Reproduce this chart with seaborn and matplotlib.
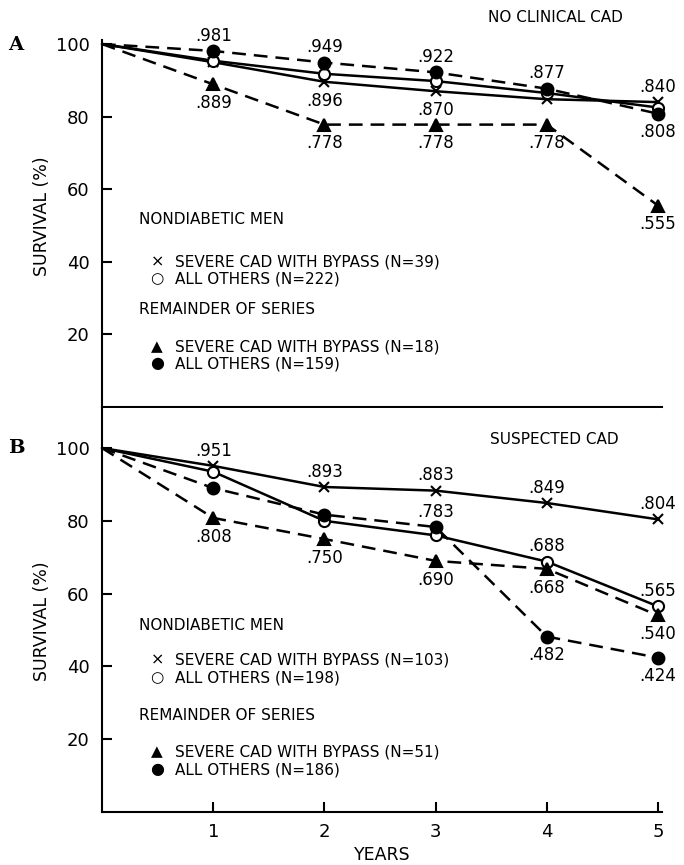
import matplotlib
matplotlib.use('Agg')
import matplotlib.pyplot as plt
import seaborn as sns

# Survival data (percent)
years = [0, 1, 2, 3, 4, 5]

# A - no clinical CAD
a_nd_bypass = [100, 95.0, 89.6, 87.0, 84.8, 84.0]
a_nd_others = [100, 95.4, 91.8, 89.8, 86.5, 82.5]
a_rem_bypass = [100, 88.9, 77.8, 77.8, 77.8, 55.5]
a_rem_others = [100, 98.1, 94.9, 92.2, 87.7, 80.8]

# B - suspected CAD
b_nd_bypass = [100, 95.1, 89.3, 88.3, 84.9, 80.4]
b_nd_others = [100, 93.5, 80.0, 76.0, 68.8, 56.5]
b_rem_bypass = [100, 80.8, 75.0, 69.0, 66.8, 54.0]
b_rem_others = [100, 89.0, 81.7, 78.3, 48.2, 42.4]

# printed values: (series, year, side)
a_labels = [('rem_others', 1, 'above'), ('rem_bypass', 1, 'below'),
            ('rem_others', 2, 'above'), ('nd_bypass', 2, 'below'), ('rem_bypass', 2, 'below'),
            ('rem_others', 3, 'above'), ('nd_bypass', 3, 'below'), ('rem_bypass', 3, 'below'),
            ('rem_others', 4, 'above'), ('rem_bypass', 4, 'below'),
            ('nd_bypass', 5, 'above'), ('rem_others', 5, 'below'), ('rem_bypass', 5, 'below')]
b_labels = [('nd_bypass', 1, 'above'), ('rem_bypass', 1, 'below'),
            ('nd_bypass', 2, 'above'), ('rem_bypass', 2, 'below'),
            ('nd_bypass', 3, 'above'), ('rem_others', 3, 'above'), ('rem_bypass', 3, 'below'),
            ('nd_bypass', 4, 'above'), ('nd_others', 4, 'above'), ('rem_bypass', 4, 'below'),
            ('rem_others', 4, 'below'),
            ('nd_bypass', 5, 'above'), ('nd_others', 5, 'above'), ('rem_bypass', 5, 'below'),
            ('rem_others', 5, 'below')]

a_legend = ['SEVERE CAD WITH BYPASS (N=39)', 'ALL OTHERS (N=222)',
            'SEVERE CAD WITH BYPASS (N=18)', 'ALL OTHERS (N=159)']
b_legend = ['SEVERE CAD WITH BYPASS (N=103)', 'ALL OTHERS (N=198)',
            'SEVERE CAD WITH BYPASS (N=51)', 'ALL OTHERS (N=186)']

sns.set_theme(style='ticks')
plt.rcParams['font.family'] = ['DejaVu Sans']
plt.rcParams['axes.linewidth'] = 1.5
for key in ['text.color', 'axes.labelcolor', 'axes.edgecolor', 'xtick.color', 'ytick.color']:
    plt.rcParams[key] = 'black'

W, H = 684, 865
fig = plt.figure(figsize=(W / 100, H / 100), dpi=100)


def fx(x):
    return x / W


def fy(y):
    return 1 - y / H


dash = (0, (5.5, 3.2))
styles = {
    'nd_bypass': dict(marker='x', linestyle='-', markerfacecolor='none', markersize=7),
    'nd_others': dict(marker='o', linestyle='-', markerfacecolor='white', markersize=8),
    'rem_bypass': dict(marker='^', linestyle=dash, markerfacecolor='black', markersize=8.5),
    'rem_others': dict(marker='o', linestyle=dash, markerfacecolor='black', markersize=8.5),
}

x_right = 5.036
axA = fig.add_axes([fx(102), fy(407), fx(662) - fx(102), (407 - 40.4) / H])
axB = fig.add_axes([fx(102), fy(812), fx(662) - fx(102), (812 - 408) / H])


def draw_panel(ax, series, labels, ytop):
    for name, vals in series.items():
        sns.lineplot(x=years, y=vals, ax=ax, color='black', linewidth=1.8,
                     markevery=[1, 2, 3, 4, 5], markeredgecolor='black',
                     markeredgewidth=1.5, clip_on=False, **styles[name])
    for name, yr, side in labels:
        v = series[name][yr]
        txt = f'{v / 100:.3f}'.lstrip('0')
        dy = 11 if side == 'above' else -13.5
        ax.annotate(txt, xy=(yr, v), xytext=(0, dy), textcoords='offset points',
                    ha='center', va='center', fontsize=12, annotation_clip=False)
    ax.set_xlim(0, x_right)
    ax.set_ylim(0, ytop)
    ax.set_yticks([20, 40, 60, 80, 100])
    ax.set_yticklabels(['20', '40', '60', '80', '100'])
    ax.tick_params(axis='y', direction='in', length=7, width=1.5, labelsize=13, pad=9)
    sns.despine(ax=ax)
    ax.set_xlabel('')


draw_panel(axA, {'nd_bypass': a_nd_bypass, 'nd_others': a_nd_others,
                 'rem_bypass': a_rem_bypass, 'rem_others': a_rem_others}, a_labels, 101)
draw_panel(axB, {'nd_bypass': b_nd_bypass, 'nd_others': b_nd_others,
                 'rem_bypass': b_rem_bypass, 'rem_others': b_rem_others}, b_labels, 111)

axA.set_xticks([])
axB.set_xticks([1, 2, 3, 4, 5])
axB.set_xticklabels(['1', '2', '3', '4', '5'])
axB.tick_params(axis='x', direction='in', length=7, width=1.5, labelsize=13, pad=8)
axB.set_xlabel('YEARS', fontsize=12.5)
axB.xaxis.set_label_coords(0.5, -0.085)

for ax, yc in [(axA, 0.521), (axB, 0.473)]:
    ax.set_ylabel('SURVIVAL (%)', fontsize=12.5)
    ax.yaxis.set_label_coords(-0.091, yc)

# panel letters and titles
fig.text(fx(16), fy(45), 'A', family='DejaVu Serif', weight='bold', fontsize=14,
         ha='center', va='center')
fig.text(fx(16), fy(448), 'B', family='DejaVu Serif', weight='bold', fontsize=14,
         ha='center', va='center')
fig.text(fx(555), fy(18), 'NO CLINICAL CAD', fontsize=11, ha='center', va='center')
fig.text(fx(554), fy(440), 'SUSPECTED CAD', fontsize=11, ha='center', va='center')

# legend blocks
glyphs = ['\u00d7', '\u25cb', '\u25b2', '\u25cf']
glyph_sizes = [11.5, 11, 11, 11.5]


def legend_block(entries, rows):
    head1, e1, e2, head2, e3, e4 = rows
    fig.text(fx(139), fy(head1), 'NONDIABETIC MEN', fontsize=11, ha='left', va='center')
    fig.text(fx(139), fy(head2), 'REMAINDER OF SERIES', fontsize=11, ha='left', va='center')
    for g, gs, label, y in zip(glyphs, glyph_sizes, entries, [e1, e2, e3, e4]):
        fig.text(fx(157), fy(y), g, fontsize=gs, ha='center', va='center')
        fig.text(fx(175), fy(y), label, fontsize=11, ha='left', va='center')


legend_block(a_legend, [220, 262, 279, 310, 347, 364])
legend_block(b_legend, [625, 660, 678, 715, 752, 770])

fig.savefig('out.png', dpi=100)
